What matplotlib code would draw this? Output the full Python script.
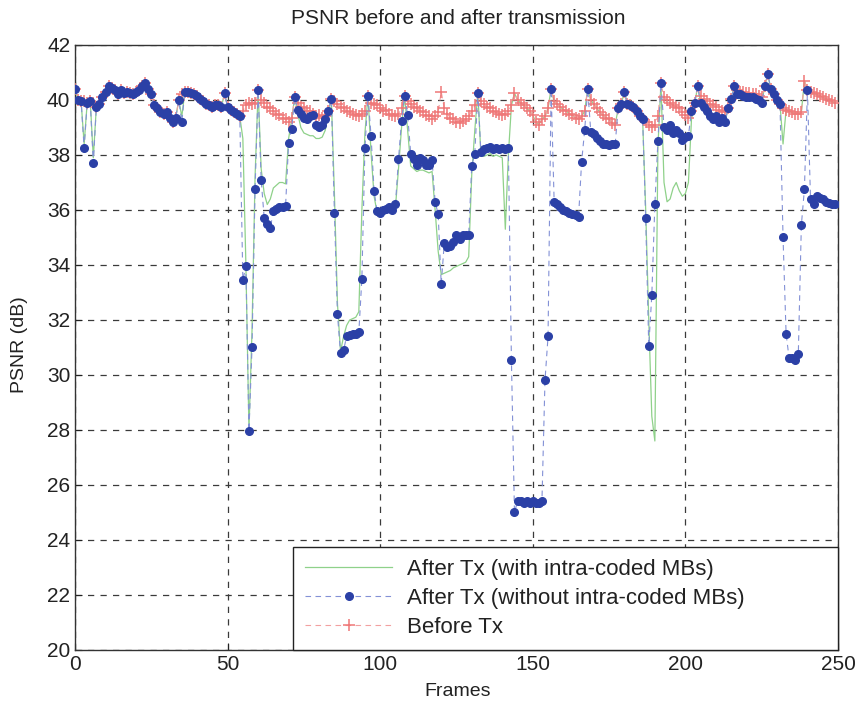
import matplotlib
matplotlib.use("Agg")
import matplotlib.pyplot as plt
import numpy as np

plt.rcParams['font.family'] = ['Liberation Sans', 'DejaVu Sans']

# PSNR per frame (dB), frames 0..249
before_tx = [
    40.4, 40.0, 39.95, 39.95, 39.9, 39.95, 39.9, 39.75, 39.85, 40.1,
    40.3, 40.5, 40.45, 40.35, 40.2, 40.35, 40.25, 40.3, 40.25, 40.2,
    40.3, 40.35, 40.5, 40.6, 40.4, 40.2, 39.8, 39.7, 39.55, 39.5,
    39.55, 39.35, 39.2, 39.35, 40.0, 40.2, 40.3, 40.3, 40.25, 40.2,
    40.15, 40.05, 39.95, 39.85, 39.8, 39.75, 39.8, 39.8, 39.75, 40.25,
    39.75, 39.65, 39.55, 39.5, 39.4, 39.6, 39.8, 39.9, 39.85, 39.9,
    40.35, 40.0, 39.9, 39.75, 39.7, 39.6, 39.5, 39.45, 39.35, 39.3,
    39.2, 39.35, 40.1, 39.9, 39.75, 39.7, 39.6, 39.6, 39.5, 39.4,
    39.45, 39.35, 39.4, 39.6, 40.05, 39.95, 39.85, 39.75, 39.7, 39.6,
    39.55, 39.5, 39.45, 39.4, 39.5, 39.6, 40.15, 39.9, 39.85, 39.8,
    39.7, 39.6, 39.65, 39.5, 39.45, 39.4, 39.5, 39.7, 40.15, 39.95,
    39.85, 39.75, 39.7, 39.6, 39.55, 39.45, 39.4, 39.3, 39.4, 39.55,
    40.3, 39.7, 39.5, 39.35, 39.3, 39.2, 39.15, 39.25, 39.3, 39.4,
    39.6, 39.8, 40.27, 39.95, 39.85, 39.75, 39.7, 39.6, 39.55, 39.5,
    39.45, 39.5, 39.6, 39.8, 40.25, 40.0, 39.9, 39.8, 39.7, 39.6,
    39.45, 39.2, 39.1, 39.3, 39.4, 39.7, 40.4, 39.95, 39.85, 39.75,
    39.65, 39.6, 39.5, 39.45, 39.35, 39.3, 39.4, 39.6, 40.4, 40.0,
    39.85, 39.7, 39.55, 39.45, 39.35, 39.3, 39.15, 39.1, 39.7, 39.85,
    40.3, 39.85, 39.8, 39.75, 39.6, 39.4, 39.3, 39.2, 39.1, 39.0,
    39.1, 39.4, 40.6, 40.1, 40.0, 39.9, 39.8, 39.75, 39.7, 39.55,
    39.45, 39.35, 39.6, 39.9, 40.5, 40.15, 40.05, 39.95, 39.85, 39.8,
    39.75, 39.65, 39.6, 39.55, 39.7, 40.05, 40.5, 40.35, 40.3, 40.3,
    40.25, 40.25, 40.2, 40.2, 40.15, 40.1, 40.5, 40.95, 40.4, 40.2,
    40.0, 39.85, 39.7, 39.65, 39.6, 39.55, 39.5, 39.5, 39.55, 40.7,
    40.35, 40.3, 40.25, 40.2, 40.15, 40.1, 40.05, 40.0, 39.95, 39.9,
]

after_without_intra = [
    40.4, 40.0, 39.95, 38.25, 39.9, 39.95, 37.7, 39.75, 39.85, 40.1,
    40.3, 40.5, 40.45, 40.35, 40.2, 40.35, 40.25, 40.3, 40.25, 40.2,
    40.3, 40.35, 40.5, 40.6, 40.4, 40.2, 39.8, 39.7, 39.55, 39.5,
    39.55, 39.35, 39.2, 39.35, 40.0, 39.2, 40.3, 40.3, 40.25, 40.2,
    40.15, 40.05, 39.95, 39.85, 39.8, 39.75, 39.8, 39.8, 39.75, 40.25,
    39.75, 39.65, 39.55, 39.5, 39.4, 33.45, 33.95, 27.95, 31.0, 36.75,
    40.35, 37.1, 35.7, 35.5, 35.35, 35.95, 36.05, 36.1, 36.1, 36.15,
    38.45, 38.95, 40.1, 39.65, 39.5, 39.35, 39.3, 39.4, 39.45, 39.1,
    39.0, 39.1, 39.3, 39.6, 40.05, 35.9, 32.2, 30.8, 30.9, 31.4,
    31.45, 31.5, 31.5, 31.55, 33.5, 38.25, 40.15, 38.7, 36.7, 35.95,
    35.9, 36.0, 36.05, 36.1, 36.0, 36.2, 37.85, 39.25, 40.15, 39.45,
    38.05, 37.85, 37.65, 37.9, 37.8, 37.65, 37.65, 37.8, 36.3, 35.85,
    33.3, 34.8, 34.65, 34.7, 34.85, 35.1, 34.95, 35.1, 35.1, 35.1,
    37.6, 38.05, 40.27, 38.1, 38.2, 38.25, 38.3, 38.2, 38.25, 38.2,
    38.25, 38.2, 38.25, 30.55, 25.0, 25.4, 25.4, 25.35, 25.4, 25.35,
    25.4, 25.35, 25.35, 25.4, 29.8, 31.4, 40.4, 36.3, 36.2, 36.1,
    36.0, 35.95, 35.9, 35.85, 35.8, 35.75, 37.75, 38.9, 40.4, 38.85,
    38.75, 38.6, 38.5, 38.4, 38.4, 38.35, 38.4, 38.4, 39.7, 39.85,
    40.3, 39.85, 39.8, 39.75, 39.6, 39.4, 39.3, 35.7, 31.05, 32.9,
    36.2, 38.5, 40.6, 39.0, 38.9, 39.1, 38.8, 38.9, 38.8, 38.55,
    38.65, 38.7, 39.6, 39.9, 40.5, 39.9, 39.75, 39.6, 39.4, 39.3,
    39.4, 39.2, 39.35, 39.2, 39.7, 40.05, 40.5, 40.2, 40.2, 40.15,
    40.1, 40.1, 40.1, 40.05, 40.0, 39.9, 40.5, 40.95, 40.4, 40.2,
    40.0, 39.85, 35.0, 31.5, 30.6, 30.6, 30.55, 30.75, 35.45, 36.75,
    40.35, 36.4, 36.2, 36.5, 36.45, 36.4, 36.3, 36.25, 36.2, 36.2,
]

after_with_intra = [
    40.4, 40.0, 39.95, 38.4, 39.9, 39.95, 37.9, 39.75, 39.85, 40.1,
    40.3, 40.5, 40.45, 40.35, 40.2, 40.35, 40.25, 40.3, 40.25, 40.2,
    40.3, 40.35, 40.5, 40.6, 40.4, 40.2, 39.8, 39.7, 39.55, 39.5,
    39.55, 39.35, 39.2, 39.35, 40.0, 39.4, 40.3, 40.3, 40.25, 40.2,
    40.15, 40.05, 39.95, 39.85, 39.8, 39.75, 39.8, 39.8, 39.75, 40.25,
    39.75, 39.65, 39.55, 39.5, 39.4, 38.6, 34.0, 28.0, 31.6, 37.2,
    40.35, 37.5, 36.6, 36.2, 36.4, 36.8, 36.9, 37.0, 37.0, 36.95,
    38.6, 39.3, 40.1, 39.5, 39.0, 38.8, 38.75, 38.7, 38.7, 38.6,
    38.6, 38.65, 38.9, 39.5, 40.05, 36.6, 32.6, 30.85, 31.4, 31.8,
    32.0, 32.05, 32.1, 32.3, 36.0, 38.8, 40.15, 38.1, 36.5, 35.9,
    35.85, 35.95, 36.0, 36.05, 35.95, 36.1, 37.5, 39.0, 40.15, 38.9,
    37.6, 37.5, 37.4, 37.45, 37.45, 37.4, 37.35, 37.4, 36.0, 34.5,
    33.65, 33.7, 33.75, 33.8, 33.9, 33.95, 34.0, 34.05, 34.1, 34.3,
    37.3, 38.9, 40.27, 38.0, 37.95, 38.0, 38.05, 37.95, 38.0, 37.95,
    37.9, 35.3, 38.0, 39.8, 40.25, 40.0, 39.9, 39.8, 39.7, 39.6,
    39.45, 39.2, 39.1, 39.3, 39.4, 39.7, 40.4, 39.95, 39.85, 39.75,
    39.65, 39.6, 39.5, 39.45, 39.35, 39.3, 39.4, 39.6, 40.4, 40.0,
    39.85, 39.7, 39.55, 39.45, 39.35, 39.3, 39.15, 39.1, 39.7, 39.85,
    40.3, 39.85, 39.8, 39.75, 39.6, 39.4, 39.3, 36.0, 32.0, 28.5,
    27.6, 38.3, 40.6, 37.0, 36.3, 36.4, 36.8, 37.0, 36.7, 36.5,
    36.6, 37.0, 39.3, 39.8, 40.5, 39.9, 39.75, 39.6, 39.4, 39.3,
    39.4, 39.2, 39.35, 39.2, 39.7, 40.05, 40.5, 40.2, 40.2, 40.15,
    40.1, 40.1, 40.1, 40.05, 40.0, 39.9, 40.5, 40.95, 40.4, 40.2,
    40.0, 39.85, 38.4, 39.65, 39.6, 39.55, 39.5, 39.5, 39.55, 40.7,
    40.35, 40.3, 40.25, 40.2, 40.15, 40.1, 40.05, 40.0, 39.95, 39.9,
]

frames = np.arange(len(before_tx))

series_labels = [
    "After Tx (with intra-coded MBs)",
    "After Tx (without intra-coded MBs)",
    "Before Tx",
]
x_ticks = [0, 50, 100, 150, 200, 250]
y_ticks = list(range(20, 43, 2))

fig = plt.figure(figsize=(8.63, 7.12), dpi=100)
ax = fig.add_axes([0.0869, 0.0871, 0.8841, 0.8497])

ax.plot(frames, after_with_intra, color="#8fd18a", linewidth=0.9,
        label=series_labels[0], zorder=3)
ax.plot(frames, after_without_intra, color="#8391d6", linewidth=0.8,
        linestyle=(0, (5, 4)), marker="o", markersize=5.5,
        markerfacecolor="#2b40a6", markeredgecolor="#2b40a6",
        label=series_labels[1], zorder=5)
ax.plot(frames, before_tx, color="#f2a0a0", linewidth=0.8,
        linestyle=(0, (5, 4)), marker="+", markersize=8,
        markeredgewidth=1.1, markeredgecolor="#ef7878",
        label=series_labels[2], zorder=4)

ax.set_xlim(0, 250)
ax.set_ylim(20, 42)
ax.set_xticks(x_ticks)
ax.set_yticks(y_ticks)
ax.grid(True, color="#3a3a3a", linestyle=(0, (5, 5)), linewidth=0.9)
ax.set_axisbelow(True)
ax.tick_params(direction="in", labelsize=15, colors="#222222", length=5)
for sp in ax.spines.values():
    sp.set_color("#333333")
    sp.set_linewidth(1.0)

# legend box spans the lower-right part of the axes, handles on the left
leg = ax.legend(loc="lower left", bbox_to_anchor=(0.2857, 0.0, 0.7143, 0.17),
                mode="expand", fontsize=16, frameon=True, fancybox=False,
                borderaxespad=0.0, handlelength=3.9, handletextpad=0.7,
                labelspacing=0.36, borderpad=0.55, framealpha=1.0)
leg.get_frame().set_edgecolor("#222222")
leg.get_frame().set_linewidth(1.0)
leg.set_zorder(10)
for t in leg.get_texts():
    t.set_color("#222222")

fig.text(458 / 863, 1 - 18 / 712, "PSNR before and after transmission",
         ha="center", va="center", fontsize=15, color="#222222")
fig.text(458 / 863, 1 - 692 / 712, "Frames", ha="center", va="center",
         fontsize=14, color="#222222")
fig.text(20 / 863, 1 - 345 / 712, "PSNR (dB)", ha="center", va="center",
         rotation=90, fontsize=14, color="#222222")

fig.savefig("out.png", dpi=100)
